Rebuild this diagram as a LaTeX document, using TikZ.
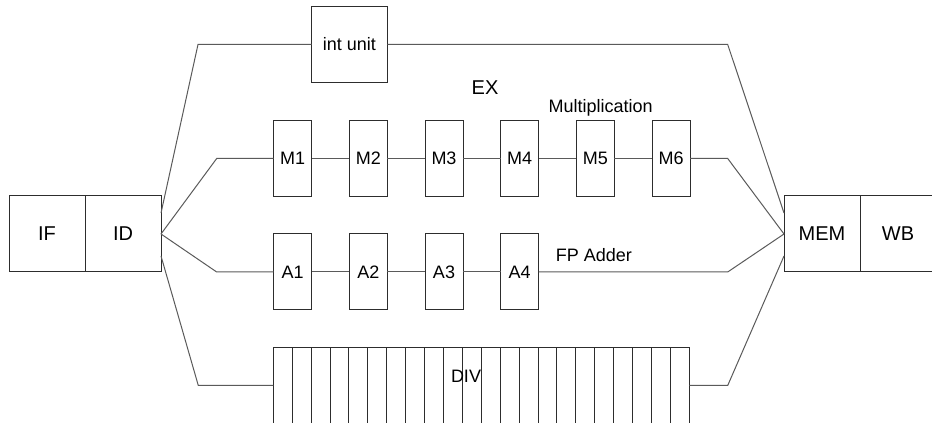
\documentclass[tikz,border=0pt]{standalone}
\usepackage{fontspec}
\setmainfont{Liberation Sans}
\usepackage{tikz}
\usetikzlibrary{positioning,calc}
\definecolor{wiregray}{RGB}{90,90,90}
\definecolor{boxgray}{RGB}{45,45,45}
\tikzset{
  stagebox/.style={rectangle,draw=boxgray,line width=.75pt,minimum width=57pt,minimum height=57pt,inner sep=0pt,outer sep=0pt,font=\fontsize{15}{18}\selectfont},
  unitbox/.style={rectangle,draw=boxgray,line width=.75pt,minimum width=28.5pt,minimum height=57pt,inner sep=0pt,outer sep=0pt,font=\fontsize{13.5}{16}\selectfont},
  wire/.style={line width=.75pt,draw=wiregray}
}

\begin{document}
\begin{tikzpicture}[
  x=0.75pt,y=-0.75pt,
  cellline/.style={line width=.75pt,draw=boxgray},
  queuebox/.style={rectangle,draw=boxgray,line width=.75pt,minimum width=312pt,minimum height=75pt,inner sep=0pt,outer sep=0pt},
  bigtext/.style={font=\fontsize{15}{18}\selectfont,inner sep=0pt,anchor=base},
  smalltext/.style={font=\fontsize{13.5}{16}\selectfont,inner sep=0pt,anchor=base}
]
\useasboundingbox (0,0) rectangle (932,423);
\clip (0,0) rectangle (932,423);

\node[stagebox] (IF) at (47,234) {IF};
\node[stagebox,right=0pt of IF] (ID) {ID};
\node[stagebox] (MEM) at (822,234) {MEM};
\node[stagebox,right=0pt of MEM] (WB) {WB};

\node[stagebox,minimum width=56.7pt,minimum height=56.7pt,font=\fontsize{13.5}{16}\selectfont] (int) at (349.5,44.5) {int unit};

\foreach \i in {1,...,6}{
  \node[unitbox] (M\i) at ({292.6+75.7*(\i-1)},158.5) {M\i};
}
\foreach \i in {1,...,4}{
  \node[unitbox] (A\i) at ({292.6+75.7*(\i-1)},272) {A\i};
}

\node[queuebox] (divbox) at (481.3,397.7) {};
\foreach \k in {1,...,21}{
  \draw[cellline] ($(divbox.north west)+(18.91*\k,0)$) -- ($(divbox.south west)+(18.91*\k,0)$);
}

\coordinate (idTop)  at ($(ID.east)+(0,-21)$);
\coordinate (idBot)  at ($(ID.east)+(0,22)$);
\coordinate (memTop) at ($(MEM.west)+(0,-21)$);
\coordinate (memBot) at ($(MEM.west)+(0,22)$);
\coordinate (topL) at (198,44.5);
\coordinate (topR) at (727.7,44.5);
\coordinate (mulL) at (216.7,158.5);
\coordinate (mulR) at (727.7,158.5);
\coordinate (addL) at (216.7,272);
\coordinate (addR) at (727.7,272);
\coordinate (divL) at (198.3,385.5);
\coordinate (divR) at (727.7,385.5);

\draw[wire] (idTop) -- (topL) -- (int.west);
\draw[wire] (int.east) -- (topR) -- (memTop);

\draw[wire] (ID.east) -- (mulL) -- (M1.west);
\foreach \i/\j in {1/2,2/3,3/4,4/5,5/6}{
  \draw[wire] (M\i.east) -- (M\j.west);
}
\draw[wire] (M6.east) -- (mulR) -- (MEM.west);

\draw[wire] (ID.east) -- (addL) -- (A1.west);
\foreach \i/\j in {1/2,2/3,3/4}{
  \draw[wire] (A\i.east) -- (A\j.west);
}
\draw[wire] (A4.east) -- (addR) -- (MEM.west);

\draw[wire] (idBot) -- (divL) -- (divL -| divbox.west);
\draw[wire] (divR -| divbox.east) -- (divR) -- (memBot);

\node[bigtext] (exlabel) at (485,95) {EX};
\node[smalltext] (mullabel) at (600.7,113) {Multiplication};
\node[smalltext] (addlabel) at (593.8,262) {FP Adder};
\node[smalltext] (divlabel) at (466,383) {DIV};

\end{tikzpicture}
\end{document}
